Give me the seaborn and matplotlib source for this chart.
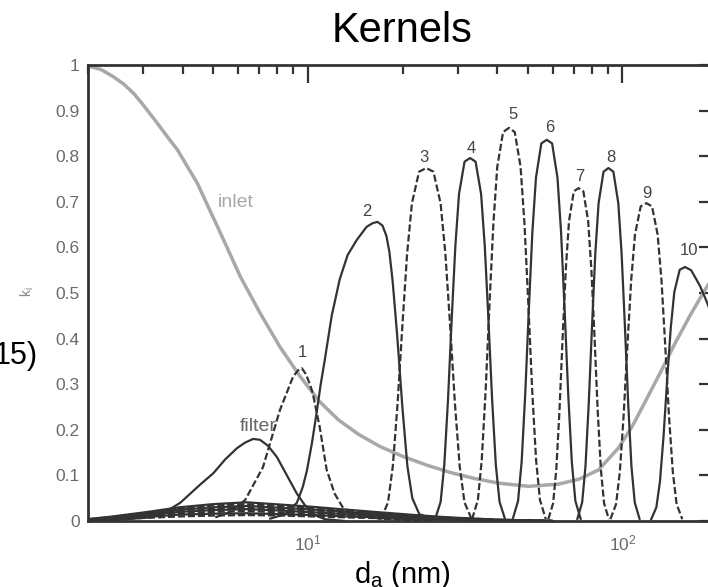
import numpy as np
import matplotlib
matplotlib.use("Agg")
import matplotlib.pyplot as plt
import seaborn as sns
from matplotlib.ticker import FixedLocator, LogLocator, NullFormatter, FixedFormatter, LogFormatterSciNotation

# ---------------- data ----------------
inlet_d = [2.0, 2.2, 2.4, 2.6, 2.8, 3.0, 3.3, 3.6, 3.85, 4.45, 5.27, 6.10, 7.05, 8.15, 9.43, 10.9,
           12.5, 14.5, 17.0, 20.0, 24.0, 28.2, 34.0, 40.5, 50.4, 62.8, 73.0, 84.0, 97.2, 108.0,
           118.3, 132.0, 147.2, 164.0, 183.2, 198.5]
inlet_k = [0.998, 0.99, 0.975, 0.958, 0.937, 0.912, 0.875, 0.84, 0.814, 0.741, 0.632, 0.536, 0.456,
           0.382, 0.318, 0.262, 0.222, 0.19, 0.163, 0.142, 0.122, 0.107, 0.093, 0.083, 0.076, 0.081,
           0.092, 0.112, 0.16, 0.21, 0.262, 0.325, 0.39, 0.45, 0.507, 0.545]

filter_d = [2.0, 2.54, 3.16, 3.53, 3.93, 4.55, 5.01, 5.46, 5.96, 6.32, 6.70, 7.05, 7.47,
            7.98, 8.58, 9.23, 9.78, 10.37, 11.32, 13.09]
filter_k = [0.0, 0.003, 0.008, 0.02, 0.04, 0.08, 0.105, 0.135, 0.16, 0.172, 0.18, 0.178, 0.165,
            0.14, 0.10, 0.06, 0.035, 0.015, 0.004, 0.0]

k1_d = [5.08, 5.67, 6.32, 7.20, 8.15, 8.97, 9.30, 9.57, 9.86, 10.15, 10.37, 10.91, 11.48,
        12.17, 12.91, 13.88, 16.9, 25.0]
k1_k = [0.008, 0.02, 0.046, 0.118, 0.243, 0.316, 0.33, 0.335, 0.322, 0.30, 0.28, 0.206, 0.112,
        0.06, 0.03, 0.017, 0.005, 0.0]

k2_d = [7.58, 8.46, 9.23, 9.64, 9.93, 10.30, 10.68, 10.99, 11.32, 11.91, 12.63, 13.38, 14.30,
        15.37, 16.06, 16.65, 17.27, 17.78, 18.17, 18.58, 18.85, 19.27, 19.98, 20.73, 21.49, 22.62, 25.23]
k2_k = [0.005, 0.015, 0.04, 0.075, 0.11, 0.17, 0.24, 0.30, 0.353, 0.45, 0.53, 0.583, 0.616,
        0.645, 0.653, 0.656, 0.648, 0.625, 0.59, 0.53, 0.48, 0.40, 0.25, 0.12, 0.05, 0.015, 0.003]

k3_d = [17.07, 17.99, 18.63, 19.29, 19.98, 20.69, 21.43, 22.58, 23.80, 25.08, 26.43, 27.37, 28.35,
        29.36, 30.40, 31.48, 33.18]
k3_k = [0.004, 0.041, 0.120, 0.257, 0.428, 0.587, 0.697, 0.766, 0.774, 0.766, 0.697, 0.587, 0.428,
        0.257, 0.120, 0.041, 0.004]

k4_d = [25.39, 26.44, 27.16, 27.90, 28.66, 29.45, 30.25, 31.50, 32.80, 34.15, 35.56, 36.53, 37.53,
        38.56, 39.61, 40.70, 42.38]
k4_k = [0.004, 0.042, 0.123, 0.264, 0.440, 0.603, 0.717, 0.788, 0.796, 0.788, 0.717, 0.603, 0.440,
        0.264, 0.123, 0.042, 0.004]

k5_d = [33.28, 34.73, 35.73, 36.76, 37.82, 38.91, 40.03, 41.77, 43.59, 45.49, 47.47, 48.84, 50.25,
        51.69, 53.18, 54.72, 57.10]
k5_k = [0.004, 0.046, 0.134, 0.286, 0.477, 0.653, 0.777, 0.853, 0.862, 0.853, 0.777, 0.653, 0.477,
        0.286, 0.134, 0.046, 0.004]

k6_d = [44.81, 46.61, 47.85, 49.12, 50.42, 51.76, 53.14, 55.27, 57.49, 59.80, 62.20, 63.85, 65.55,
        67.29, 69.08, 70.91, 73.76]
k6_k = [0.004, 0.044, 0.130, 0.278, 0.462, 0.634, 0.753, 0.828, 0.836, 0.828, 0.753, 0.634, 0.462,
        0.278, 0.130, 0.044, 0.004]

k7_d = [58.17, 60.25, 61.67, 63.12, 64.61, 66.13, 67.69, 70.10, 72.60, 75.18, 77.86, 79.70, 81.58,
        83.50, 85.47, 87.49, 90.60]
k7_k = [0.004, 0.039, 0.113, 0.242, 0.404, 0.553, 0.658, 0.723, 0.730, 0.723, 0.658, 0.553, 0.404,
        0.242, 0.113, 0.039, 0.004]

k8_d = [71.89, 74.53, 76.35, 78.20, 80.11, 82.05, 84.05, 87.14, 90.34, 93.66, 97.10, 99.46, 101.9,
        104.4, 106.9, 109.5, 113.5]
k8_k = [0.004, 0.041, 0.120, 0.257, 0.428, 0.587, 0.697, 0.766, 0.774, 0.766, 0.697, 0.587, 0.428,
        0.257, 0.120, 0.041, 0.004]

k9_d = [91.63, 95.52, 98.20, 100.95, 103.8, 106.7, 109.7, 114.4, 119.2, 124.3, 129.5, 133.2, 136.9,
        140.7, 144.7, 148.8, 155.1]
k9_k = [0.004, 0.037, 0.108, 0.231, 0.385, 0.528, 0.628, 0.690, 0.697, 0.690, 0.628, 0.528, 0.385,
        0.231, 0.108, 0.037, 0.004]

k10_d = [123.4, 128.3, 131.7, 135.2, 138.8, 142.5, 146.3, 152.2, 158.3, 165.4, 170.3, 176.7, 183.2, 198.5]
k10_k = [0.003, 0.030, 0.086, 0.185, 0.308, 0.422, 0.502, 0.551, 0.557, 0.550, 0.535, 0.515, 0.490, 0.430]

# low, broad tails of the channel kernels (kernels 3..10)
tail_d = [2.0, 2.4, 3.1, 3.9, 5.0, 6.4, 8.2, 10.4, 13.2, 17.0, 22.0, 28.0, 40.0, 60.0]
tail3_k = [0.001, 0.004, 0.007, 0.010, 0.012, 0.013, 0.012, 0.010, 0.008, 0.006, 0.004, 0.003, 0.001, 0.0]
tail4_k = [0.002, 0.005, 0.009, 0.014, 0.016, 0.017, 0.015, 0.013, 0.010, 0.008, 0.005, 0.004, 0.001, 0.0]
tail5_k = [0.002, 0.006, 0.011, 0.017, 0.020, 0.022, 0.019, 0.016, 0.013, 0.010, 0.007, 0.005, 0.002, 0.0]
tail6_k = [0.003, 0.007, 0.013, 0.020, 0.024, 0.026, 0.023, 0.019, 0.015, 0.012, 0.008, 0.006, 0.002, 0.0]
tail7_k = [0.003, 0.008, 0.015, 0.022, 0.027, 0.029, 0.026, 0.022, 0.018, 0.014, 0.009, 0.006, 0.002, 0.0]
tail8_k = [0.003, 0.008, 0.017, 0.025, 0.030, 0.033, 0.029, 0.025, 0.020, 0.015, 0.010, 0.007, 0.002, 0.0]
tail9_k = [0.004, 0.009, 0.018, 0.028, 0.034, 0.037, 0.033, 0.028, 0.022, 0.017, 0.011, 0.007, 0.003, 0.0]
tail10_k = [0.004, 0.010, 0.020, 0.030, 0.037, 0.041, 0.036, 0.031, 0.025, 0.019, 0.013, 0.008, 0.003, 0.0]

kernel_names = ["1", "2", "3", "4", "5", "6", "7", "8", "9", "10"]
y_ticks = [0, 0.1, 0.2, 0.3, 0.4, 0.5, 0.6, 0.7, 0.8, 0.9, 1]
y_tick_labels = ["0", "0.1", "0.2", "0.3", "0.4", "0.5", "0.6", "0.7", "0.8", "0.9", "1"]
x_major_ticks = [10, 100]

# ---------------- style ----------------
sns.set_style("white")
plt.rcParams["font.family"] = ["Liberation Sans", "DejaVu Sans"]
plt.rcParams["mathtext.fontset"] = "custom"
plt.rcParams["mathtext.rm"] = "Liberation Sans"
plt.rcParams["mathtext.it"] = "Liberation Sans:italic"
plt.rcParams["mathtext.default"] = "regular"

DARK = "#333333"
GREY = "#a8a8a8"
TICKLAB = "#6a6a6a"
DASH = (0, (3.2, 1.3))

fig = plt.figure(figsize=(7.08, 5.87), dpi=100)
ax = fig.add_axes([88 / 708, 66 / 587, 629 / 708, 456 / 587])
ax.set_xscale("log")

kernels_d = [k1_d, k2_d, k3_d, k4_d, k5_d, k6_d, k7_d, k8_d, k9_d, k10_d]
kernels_k = [k1_k, k2_k, k3_k, k4_k, k5_k, k6_k, k7_k, k8_k, k9_k, k10_k]
tails_k = [None, None, tail3_k, tail4_k, tail5_k, tail6_k, tail7_k, tail8_k, tail9_k, tail10_k]

# inlet penetration
sns.lineplot(x=inlet_d, y=inlet_k, ax=ax, color=GREY, lw=2.5, zorder=1, estimator=None)

# filter
sns.lineplot(x=filter_d, y=filter_k, ax=ax, color=DARK, lw=1.6, zorder=2, estimator=None)

for i, (d, k) in enumerate(zip(kernels_d, kernels_k)):
    ls = DASH if i % 2 == 0 else "-"
    sns.lineplot(x=d, y=k, ax=ax, color=DARK, lw=1.6, linestyle=ls, zorder=2, estimator=None)
    if tails_k[i] is not None:
        sns.lineplot(x=tail_d, y=tails_k[i], ax=ax, color=DARK, lw=1.6, linestyle=ls,
                     zorder=2, estimator=None)

# peak labels (offsets in pixels, right / up)
label_offsets = {"1": (1, 16), "2": (-11, 10), "3": (-2, 11), "4": (1, 10), "5": (4, 13),
                 "6": (3, 12), "7": (1, 12), "8": (2, 11), "9": (1, 10), "10": (4, 17)}
for name, d, k in zip(kernel_names, kernels_d, kernels_k):
    j = int(np.argmax(k))
    dx, dy = label_offsets[name]
    ax.annotate(name, (d[j], k[j]), xytext=(dx * 0.72, dy * 0.72), textcoords="offset points",
                ha="center", va="center", fontsize=12, color="#444444", annotation_clip=False)

ax.text(5.9, 0.698, "inlet", ha="center", va="center", fontsize=14, color=GREY)
ax.text(6.95, 0.207, "filter", ha="center", va="center", fontsize=14, color="#666666")

# axes
ax.set_xlim(2, 200)
ax.set_ylim(0, 1)
ax.xaxis.set_major_locator(FixedLocator(x_major_ticks))
ax.xaxis.set_major_formatter(LogFormatterSciNotation())
ax.xaxis.set_minor_locator(LogLocator(base=10, subs=np.arange(2, 10)))
ax.xaxis.set_minor_formatter(NullFormatter())
ax.yaxis.set_major_locator(FixedLocator(y_ticks))
ax.yaxis.set_major_formatter(FixedFormatter(y_tick_labels))
ax.tick_params(axis="both", which="both", direction="in", top=True, right=True,
               color=DARK, labelcolor=TICKLAB, labelsize=12.5)
ax.tick_params(axis="both", which="major", length=13, width=1.6, pad=6)
ax.tick_params(axis="both", which="minor", length=6.5, width=1.6)
ax.tick_params(axis="x", which="major", pad=9)
for sp in ax.spines.values():
    sp.set_color(DARK)
    sp.set_linewidth(2.0)
    sp.set_visible(True)
ax.set_xlabel("")
ax.set_ylabel("")
ax.grid(False)

ax.set_title("Kernels", fontsize=30, pad=16.5, color="black")
fig.text(402 / 708, 4 / 587, r"$\mathregular{d_a}$ (nm)", ha="center", va="baseline",
         fontsize=21, color="black")
fig.text(27 / 708, 1 - 292 / 587, r"$\mathregular{k_i}$", ha="center", va="center",
         rotation=90, fontsize=10, color="#888888")
fig.text(38 / 708, 1 - 356 / 587, "15)", ha="right", va="center", fontsize=22, color="black")

fig.savefig("out.png", dpi=100)
